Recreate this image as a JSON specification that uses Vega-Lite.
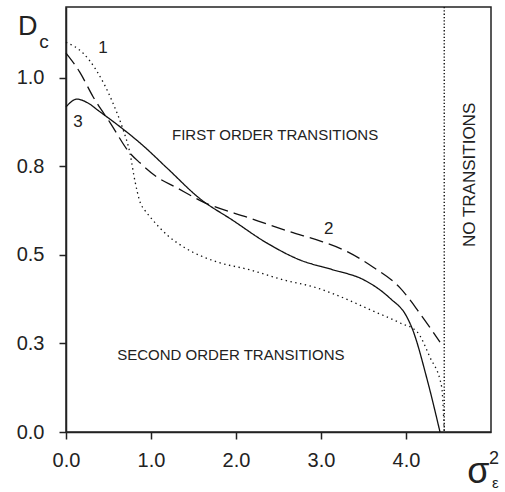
{
  "$schema": "https://vega.github.io/schema/vega-lite/v6.json",
  "width": 425,
  "height": 425,
  "autosize": {"type": "none"},
  "padding": {"left": 66, "top": 7, "right": 14, "bottom": 60},
  "background": "white",
  "config": {
    "view": {"stroke": "#222", "strokeWidth": 1.5},
    "axis": {"grid": false, "domainColor": "#222", "domainWidth": 1.5, "tickColor": "#222", "tickWidth": 1.5, "tickSize": 7, "labelFont": "Liberation Sans", "labelFontSize": 20, "labelColor": "#222", "title": null, "labelFlush": false}
  },
  "datasets": {
    "curves": [
      {"curve": "1", "i": 0, "x": 0.0, "y": 1.10},
      {"curve": "1", "i": 1, "x": 0.2, "y": 1.07},
      {"curve": "1", "i": 2, "x": 0.36, "y": 1.02},
      {"curve": "1", "i": 3, "x": 0.55, "y": 0.93},
      {"curve": "1", "i": 4, "x": 0.67, "y": 0.855},
      {"curve": "1", "i": 5, "x": 0.75, "y": 0.79},
      {"curve": "1", "i": 6, "x": 0.81, "y": 0.71},
      {"curve": "1", "i": 7, "x": 0.87, "y": 0.65},
      {"curve": "1", "i": 8, "x": 0.93, "y": 0.625},
      {"curve": "1", "i": 9, "x": 0.99, "y": 0.607},
      {"curve": "1", "i": 10, "x": 1.2, "y": 0.554},
      {"curve": "1", "i": 11, "x": 1.4, "y": 0.52},
      {"curve": "1", "i": 12, "x": 1.78, "y": 0.48},
      {"curve": "1", "i": 13, "x": 2.16, "y": 0.458},
      {"curve": "1", "i": 14, "x": 2.55, "y": 0.43},
      {"curve": "1", "i": 15, "x": 2.95, "y": 0.407},
      {"curve": "1", "i": 16, "x": 3.32, "y": 0.373},
      {"curve": "1", "i": 17, "x": 3.58, "y": 0.345},
      {"curve": "1", "i": 18, "x": 3.93, "y": 0.308},
      {"curve": "1", "i": 19, "x": 4.13, "y": 0.283},
      {"curve": "1", "i": 20, "x": 4.28, "y": 0.212},
      {"curve": "1", "i": 21, "x": 4.42, "y": 0.127},
      {"curve": "1", "i": 22, "x": 4.45, "y": 0.0},
      {"curve": "2", "i": 0, "x": 0.0, "y": 1.07},
      {"curve": "2", "i": 1, "x": 0.16, "y": 1.017},
      {"curve": "2", "i": 2, "x": 0.32, "y": 0.946},
      {"curve": "2", "i": 3, "x": 0.52, "y": 0.873},
      {"curve": "2", "i": 4, "x": 0.75, "y": 0.788},
      {"curve": "2", "i": 5, "x": 0.87, "y": 0.76},
      {"curve": "2", "i": 6, "x": 1.07, "y": 0.72},
      {"curve": "2", "i": 7, "x": 1.3, "y": 0.69},
      {"curve": "2", "i": 8, "x": 1.61, "y": 0.65},
      {"curve": "2", "i": 9, "x": 2.16, "y": 0.604},
      {"curve": "2", "i": 10, "x": 2.64, "y": 0.565},
      {"curve": "2", "i": 11, "x": 3.02, "y": 0.537},
      {"curve": "2", "i": 12, "x": 3.32, "y": 0.508},
      {"curve": "2", "i": 13, "x": 3.61, "y": 0.466},
      {"curve": "2", "i": 14, "x": 3.93, "y": 0.407},
      {"curve": "2", "i": 15, "x": 4.16, "y": 0.336},
      {"curve": "2", "i": 16, "x": 4.40, "y": 0.254},
      {"curve": "3", "i": 0, "x": 0.0, "y": 0.918},
      {"curve": "3", "i": 1, "x": 0.13, "y": 0.94},
      {"curve": "3", "i": 2, "x": 0.25, "y": 0.93},
      {"curve": "3", "i": 3, "x": 0.4, "y": 0.904},
      {"curve": "3", "i": 4, "x": 0.635, "y": 0.862},
      {"curve": "3", "i": 5, "x": 0.9, "y": 0.81},
      {"curve": "3", "i": 6, "x": 1.19, "y": 0.745},
      {"curve": "3", "i": 7, "x": 1.58, "y": 0.658},
      {"curve": "3", "i": 8, "x": 1.96, "y": 0.598},
      {"curve": "3", "i": 9, "x": 2.36, "y": 0.534},
      {"curve": "3", "i": 10, "x": 2.75, "y": 0.486},
      {"curve": "3", "i": 11, "x": 3.14, "y": 0.458},
      {"curve": "3", "i": 12, "x": 3.5, "y": 0.43},
      {"curve": "3", "i": 13, "x": 3.81, "y": 0.378},
      {"curve": "3", "i": 14, "x": 4.01, "y": 0.325},
      {"curve": "3", "i": 15, "x": 4.07, "y": 0.294},
      {"curve": "3", "i": 16, "x": 4.25, "y": 0.147},
      {"curve": "3", "i": 17, "x": 4.4, "y": 0.0}
    ],
    "labels": [
      {"text": "1", "x": 0.435, "y": 1.085, "size": 17, "font": "Liberation Sans", "angle": 0},
      {"text": "2", "x": 3.09, "y": 0.573, "size": 17, "font": "Liberation Sans", "angle": 0},
      {"text": "3", "x": 0.14, "y": 0.876, "size": 17, "font": "Liberation Sans", "angle": 0},
      {"text": "FIRST ORDER TRANSITIONS", "x": 2.46, "y": 0.839, "size": 15, "font": "Liberation Sans", "angle": 0},
      {"text": "SECOND ORDER TRANSITIONS", "x": 1.94, "y": 0.2175, "size": 15, "font": "Liberation Sans", "angle": 0},
      {"text": "NO TRANSITIONS", "x": 4.75, "y": 0.726, "size": 17, "font": "Liberation Sans", "angle": 270},
      {"text": "D", "x": -0.45, "y": 1.144, "size": 27, "font": "Liberation Serif", "angle": 0},
      {"text": "c", "x": -0.26, "y": 1.10, "size": 19, "font": "Liberation Serif", "angle": 0},
      {"text": "σ", "x": 4.85, "y": -0.113, "size": 36, "font": "Liberation Serif", "angle": 0},
      {"text": "2", "x": 5.035, "y": -0.076, "size": 18, "font": "Liberation Serif", "angle": 0},
      {"text": "ε", "x": 5.05, "y": -0.145, "size": 15, "font": "Liberation Serif", "angle": 0}
    ],
    "vline": [{"x": 4.45}]
  },
  "layer": [
    {
      "data": {"name": "curves"},
      "mark": {"type": "line", "color": "#111", "strokeWidth": 1.3, "interpolate": "monotone"},
      "encoding": {
        "x": {"field": "x", "type": "quantitative", "scale": {"domain": [0, 5], "nice": false}, "axis": {"values": [0, 1, 2, 3, 4], "format": ".1f", "labelPadding": 11}},
        "y": {"field": "y", "type": "quantitative", "scale": {"domain": [0, 1.2], "nice": false}, "axis": {"values": [0, 0.25, 0.5, 0.75, 1.0], "format": ".1f", "labelPadding": 15}},
        "detail": {"field": "curve"},
        "order": {"field": "i", "type": "quantitative"},
        "strokeDash": {"field": "curve", "type": "nominal", "scale": {"domain": ["1", "2", "3"], "range": [[1.4, 3.5], [14, 6], [1, 0]]}, "legend": null}
      }
    },
    {
      "data": {"name": "vline"},
      "mark": {"type": "rule", "color": "#111", "strokeWidth": 1.4, "strokeDash": [1.3, 2]},
      "encoding": {"x": {"field": "x", "type": "quantitative"}}
    },
    {
      "data": {"name": "labels"},
      "mark": {"type": "text", "color": "#222", "align": "center", "baseline": "middle"},
      "encoding": {
        "x": {"field": "x", "type": "quantitative"},
        "y": {"field": "y", "type": "quantitative"},
        "text": {"field": "text"},
        "size": {"field": "size", "type": "quantitative", "scale": null},
        "angle": {"field": "angle", "type": "quantitative", "scale": null},
        "font": {"field": "font", "type": "nominal", "scale": null}
      }
    }
  ]
}
